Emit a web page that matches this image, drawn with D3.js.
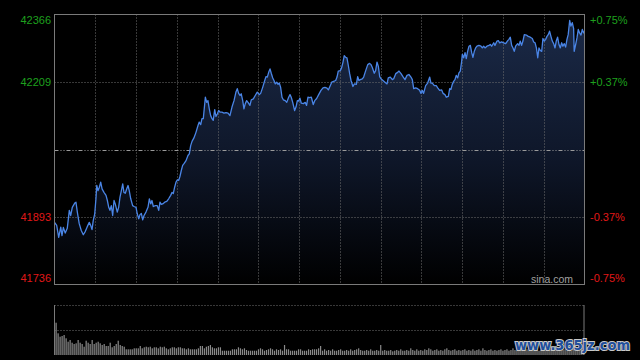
<!DOCTYPE html>
<html><head><meta charset="utf-8">
<script src="https://cdn.jsdelivr.net/npm/d3@7"></script>
<style>html,body{margin:0;padding:0;background:#000;}svg{display:block;}</style>
</head><body>
<script>
// [minute since open, index price]
const pricePoints = [[0,41881],[1.6,41874],[3.1,41846],[4.6,41870],[5.5,41850],[6.5,41869],[7.9,41856],[9.4,41867],[10.9,41909],[11.9,41897],
[13.1,41916],[14.9,41926],[15.8,41928],[16.8,41905],[18.2,41878],[19.7,41862],[21.2,41852],[22.7,41860],[24.1,41871],[25.6,41881],
[26.6,41874],[27.6,41864],[28.5,41885],[29.6,41901],[30.5,41936],[31.1,41967],[32.0,41955],[33.0,41963],[34.0,41975],[35.0,41959],
[36.4,41951],[37.9,41944],[38.9,41932],[39.9,41916],[40.8,41909],[41.8,41920],[42.8,41897],[43.8,41932],[44.7,41924],[46.2,41905],
[47.2,41916],[48.2,41940],[49.2,41955],[50.2,41971],[51.1,41951],[52.1,41949],[53.1,41959],[54.1,41967],[55.0,41955],[56.1,41936],
[57.5,41920],[58.5,41918],[60.0,41916],[60.9,41901],[62.0,41889],[62.9,41899],[63.9,41902],[64.9,41887],[65.9,41897],[67.3,41905],
[68.8,41916],[69.8,41936],[70.8,41924],[71.7,41932],[72.7,41918],[74.2,41920],[75.6,41920],[76.7,41909],[77.6,41928],[78.6,41923],
[79.6,41924],[81.1,41928],[82.6,41930],[84.0,41936],[85.5,41944],[86.5,41951],[87.4,41948],[88.4,41963],[89.4,41975],[90.4,41980],
[91.4,41979],[92.3,41988],[93.3,42002],[94.3,42014],[95.3,42018],[96.8,42025],[98.2,42037],[99.2,42041],
[100.2,42060],[101.2,42070],[102.6,42078],[104.1,42091],[105.6,42107],[106.5,42115],[107.6,42109],[108.5,42123],[109.5,42123],[111.0,42173],
[112.0,42161],[112.9,42165],[113.9,42146],[114.9,42130],[115.9,42123],[116.8,42119],[117.9,42144],[118.8,42128],[119.8,42134],[120.8,42142],
[121.8,42138],[123.2,42138],[124.7,42136],[126.2,42137],[127.7,42136],[129.1,42130],[130.6,42150],[132.1,42165],[133.5,42185],[134.5,42193],
[135.5,42182],[136.5,42177],[137.4,42181],[138.5,42165],[139.4,42146],[140.4,42158],[141.4,42165],[142.4,42161],[143.8,42154],[144.8,42167],
[146.3,42169],[147.7,42177],[149.2,42185],[150.7,42179],[151.7,42182],[153.2,42196],[154.7,42212],[155.6,42221],[156.6,42220],[157.6,42231],
[158.6,42239],[159.5,42229],[160.6,42218],[161.5,42212],[162.5,42204],[163.5,42208],[164.5,42203],[165.4,42206],[166.4,42196],[167.4,42173],
[168.4,42167],[169.8,42165],[170.9,42161],[172.3,42173],[173.3,42179],[174.2,42173],[175.3,42161],[176.7,42142],[177.7,42150],[178.7,42165],
[179.7,42164],[180.6,42171],[181.6,42159],[183.1,42158],[184.5,42161],[185.5,42154],[186.5,42173],[187.5,42172],[189.0,42173],[190.4,42156],
[191.5,42165],[192.9,42170],[194.4,42179],[196.1,42189],[197.6,42195],[199.0,42196],[200.5,42194],[201.5,42190],[202.9,42200],[204.0,42208],
[205.4,42210],[206.9,42212],[207.9,42220],[208.8,42234],[210.3,42235],[211.3,42242],[212.3,42255],[213.2,42270],[214.3,42266],[215.2,42265],
[216.2,42247],[217.2,42228],[218.2,42212],[219.6,42198],[220.6,42204],[222.1,42203],[223.1,42221],[224.0,42212],[225.0,42214],[226.5,42216],
[227.5,42220],[229.0,42235],[230.5,42249],[231.9,42252],[232.9,42249],[233.8,42243],[235.3,42229],[236.3,42235],[237.3,42255],[238.3,42245],
[239.3,42221],[240.2,42216],[241.7,42212],[243.2,42208],[244.7,42204],[245.6,42218],[247.1,42220],[248.6,42214],[249.6,42216],[251.1,42228],
[252.5,42231],[253.5,42234],[255.0,42228],[256.4,42221],[257.9,42214],[259.4,42224],[260.8,42226],[262.3,42220],[263.3,42214],[264.3,42193],
[265.8,42195],[267.2,42193],[268.7,42189],[269.7,42182],[270.6,42189],[271.6,42182],[273.1,42200],[274.6,42206],[276.1,42220],[277.0,42206],
[278.0,42206],[279.5,42200],[280.9,42200],[282.0,42195],[283.4,42189],[284.9,42190],[285.9,42182],[287.3,42179],[288.3,42173],[289.8,42175],
[290.8,42193],[291.7,42191],[292.7,42203],[293.7,42210],[294.7,42214],[295.6,42224],[296.7,42218],[297.6,42230],[298.6,42234],[299.6,42257],
[300.1,42273],[301.1,42265],[302.1,42277],[303.0,42263],[304.0,42280],[305.0,42292],[306.0,42294],[307.0,42277],[307.9,42266],[308.9,42280],
[309.9,42288],[310.9,42292],[312.3,42294],[313.8,42292],[314.8,42288],[315.8,42292],[316.8,42288],[318.2,42292],[319.7,42294],[320.7,42296],
[321.7,42292],[323.2,42300],[324.1,42294],[325.6,42304],[326.6,42305],[327.6,42300],[329.0,42302],[330.5,42300],[332.0,42298],[333.5,42305],
[334.4,42308],[335.4,42313],[336.4,42294],[337.4,42288],[338.3,42280],[339.3,42292],[340.8,42298],[341.8,42294],[342.7,42304],[343.7,42294],
[344.7,42304],[345.7,42319],[347.2,42318],[348.6,42315],[350.1,42313],[351.6,42310],[352.6,42302],[353.6,42300],[354.6,42288],[355.6,42265],
[356.5,42288],[357.5,42282],[358.5,42280],[359.4,42310],[360.4,42304],[361.4,42308],[362.4,42315],[363.3,42319],[364.3,42327],[365.3,42315],
[366.3,42304],[367.3,42298],[368.3,42288],[369.2,42304],[370.2,42313],[371.2,42296],[372.2,42288],[373.2,42300],[374.1,42292],[375.1,42298],
[376.1,42290],[377.1,42308],[378.0,42319],[379.1,42352],[380.0,42339],[381.0,42347],[382.0,42333],[382.4,42280],[383.5,42296],[384.5,42312],
[385.4,42331],[386.4,42323],[387.4,42318],[388.4,42331],[389.4,42323],[390,42327]];

const volumes = [32.3,21.7,18.3,19,20,16.7,13.3,15,12.3,11,11.7,15,12.3,11,8.3,14.3,12.3,11,15,11,12.3,13.3,11.7,10,11,9,9,12.3,7.7,9,
11,14.3,10,9,8.3,5.7,5.7,5.7,5.7,6.7,6.7,6.7,9,6.7,7.7,8.3,7.7,8.3,6.7,7.7,7.7,6.7,8.3,7.7,8.3,6.7,5.7,6.7,7.7,7.7,
6.7,7.7,7.7,6.7,6.7,5.7,6.7,5.7,5.7,5.7,5.7,6.7,9,9,6.7,8.3,9,10,7.7,6.7,6.7,7.7,7.7,4.3,4.3,4.3,4.3,4.3,5.7,5.7,
5.7,7.7,6.7,5.7,6.7,5,4.3,4.3,4.3,4.3,4.3,5.7,6.7,5.7,4.3,5,5.7,6.7,5.7,4.3,5.7,5,5.7,4.3,10,5.7,5.7,4.3,4.3,4.3,
4.3,5.7,5.7,4.3,4.3,4.3,5.7,5,5.7,5.7,5.7,6.7,
9,4.3,5.7,4.3,5,4.3,5.7,4.3,4.3,5,5.7,4.3,4.3,5,4.3,5.7,4.3,5,5.7,6.7,5,4.3,4.3,5,4.3,5.7,4.3,4.3,5,4.3,
10,4.3,5,4.3,4.3,5,3.7,4.3,5,4.3,5.7,4.3,4.3,5,4.3,6.7,5,4.3,5.7,4.3,5,
4.3,5.7,5,6.7,5.7,4.3,5,5.7,4.3,5,4.3,5.7,6.7,5,4.3,5,5.7,4.3,5,4.3,
5,5.7,4.3,5,4.3,5.7,4.3,5,5.7,4.3,6.7,5,4.3,5,5.7,4.3,5,4.3,5,5.7,
4.3,5,5.7,4.3,5,6.7,5,4.3,5.7,5,4.3,5,5.7,4.3,5,4.3,5.7,5,4.3,5,
5.7,4.3,5,4.3,5.7,5,4.3,5,5.7,4.3,5,5.7,4.3,5,4.3,5.7,5,4.3,5,5.7,6.7];

const priceTicks = [42366, 42209, 41893, 41736];
const leftLabels = ["42366", "42209", "41893", "41736"];
const rightLabels = ["+0.75%", "+0.37%", "-0.37%", "-0.75%"];
const labelColors = ["#1ea01e", "#1ea01e", "#e01818", "#e01818"];
const prevClose = 42051;
const gridMinutes = [30,60,90,120,150,180,210,240,270,300,330,360];

const W = 640, H = 360;
const svg = d3.select("body").append("svg").attr("width", W).attr("height", H)
  .style("background", "#000").style("font-family", "'Liberation Sans', Arial, sans-serif");

const L = 54.5, R = 584.5, T = 14.5, B = 284.5;
const x = d3.scaleLinear().domain([0, 390]).range([L, R]);
const y = d3.scaleLinear().domain([41736, 42366]).range([B, T]);

const defs = svg.append("defs");
const grad = defs.append("linearGradient").attr("id", "fillg")
  .attr("gradientUnits", "userSpaceOnUse").attr("x1", 0).attr("x2", 0).attr("y1", T).attr("y2", B);
grad.append("stop").attr("offset", "0%").attr("stop-color", "#1b2a48");
grad.append("stop").attr("offset", "55%").attr("stop-color", "#0e1628");
grad.append("stop").attr("offset", "100%").attr("stop-color", "#000");

// area
const area = d3.area().x(d => x(d[0])).y0(B).y1(d => y(d[1]));
svg.append("path").datum(pricePoints).attr("d", area).attr("fill", "url(#fillg)");

// grid
const g = svg.append("g");
g.selectAll("line.v").data(gridMinutes).join("line")
  .attr("x1", d => Math.round(x(d)) + 0.5).attr("x2", d => Math.round(x(d)) + 0.5)
  .attr("y1", T).attr("y2", B).attr("stroke", "#707070").attr("stroke-dasharray", "1,2");
g.selectAll("line.h").data([42209, 41893]).join("line")
  .attr("x1", L).attr("x2", R).attr("y1", d => Math.round(y(d)) + 0.5).attr("y2", d => Math.round(y(d)) + 0.5)
  .attr("stroke", "#707070").attr("stroke-dasharray", "1,2");
g.append("line").attr("x1", L).attr("x2", R)
  .attr("y1", Math.round(y(prevClose)) + 0.5).attr("y2", Math.round(y(prevClose)) + 0.5)
  .attr("stroke", "#9a9a9a").attr("stroke-dasharray", "4,2,1,2,1,2");

// line
const line = d3.line().x(d => x(d[0])).y(d => y(d[1]));
svg.append("path").datum(pricePoints).attr("d", line).attr("fill", "none")
  .attr("stroke", "#4a85e6").attr("stroke-width", 1.3).attr("stroke-linejoin", "round");

// frame
svg.append("rect").attr("x", L).attr("y", T).attr("width", R - L).attr("height", B - T)
  .attr("fill", "none").attr("stroke", "#7a7a7a");

// labels
const lab = svg.append("g").style("font-size", "11px");
priceTicks.forEach((p, i) => {
  let yy = y(p);
  if (i === 0) yy += 6; else if (i === priceTicks.length - 1) yy -= 6;
  lab.append("text").attr("x", 51).attr("y", yy).attr("dy", "0.35em").attr("text-anchor", "end")
    .attr("fill", labelColors[i]).text(leftLabels[i]);
  lab.append("text").attr("x", 590).attr("y", yy).attr("dy", "0.35em").attr("text-anchor", "start")
    .attr("fill", labelColors[i]).text(rightLabels[i]);
});

svg.append("text").attr("x", 573).attr("y", 283).attr("text-anchor", "end")
  .attr("fill", "#a0a0a0").style("font-size", "10.5px").text("sina.com");

// volume panel
const VT = 305, VB = 355;
const vx = d3.scaleLinear().domain([0, volumes.length]).range([L, R - 1]);
const vy = d3.scaleLinear().domain([0, 50]).range([VB, VT]);
svg.selectAll("line.vg").data([50, 25]).join("line")
  .attr("x1", L).attr("x2", R).attr("y1", d => Math.round(vy(d)) + 0.5).attr("y2", d => Math.round(vy(d)) + 0.5)
  .attr("stroke", "#707070").attr("stroke-dasharray", "1,2");
svg.append("g").selectAll("rect").data(volumes).join("rect")
  .attr("x", (d, i) => vx(i) + 1).attr("width", 1.2)
  .attr("y", d => vy(d)).attr("height", d => VB - vy(d)).attr("fill", "#8a8a8a");
svg.append("line").attr("x1", L).attr("x2", L).attr("y1", VT).attr("y2", VB).attr("stroke", "#7a7a7a");
svg.append("line").attr("x1", R - 0.5).attr("x2", R - 0.5).attr("y1", VT).attr("y2", VB).attr("stroke", "#7a7a7a");

// watermark
svg.append("text").attr("x", 515).attr("y", 350).attr("textLength", 115).attr("lengthAdjust", "spacingAndGlyphs")
  .style("font-family", "'DejaVu Sans', sans-serif").style("font-weight", "bold").style("font-size", "14px")
  .attr("fill", "#1f4f9c").attr("stroke", "#c8c8c8").attr("stroke-width", 2).style("paint-order", "stroke")
  .text("www.365jz.com");
</script>
</body></html>
